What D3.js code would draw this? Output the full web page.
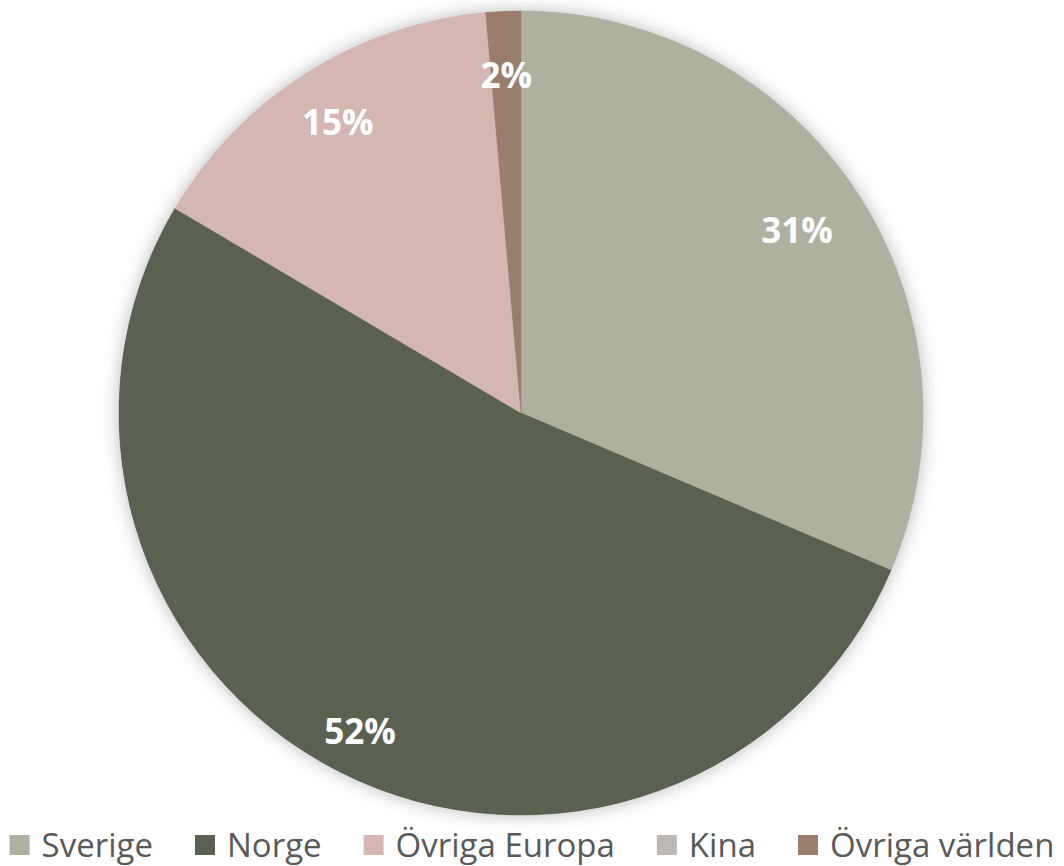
<!DOCTYPE html>
<html>
<head>
<meta charset="utf-8">
<script src="https://cdn.jsdelivr.net/npm/d3@7"></script>
<style>
  body { margin: 0; background: #fff; }
  svg { display: block; }
</style>
</head>
<body>
<div id="main"></div>
<script>
const ctx = { w: 1064, h: 866, cx: 521, cy: 413, r: 402 };

const categories = ['Sverige', 'Norge', 'Övriga Europa', 'Kina', 'Övriga världen'];
const shares = [31.4, 52.1, 15.1, 0, 1.4];
const labels = ['31%', '52%', '15%', '', '2%'];
const colors = ['#aeb1a0', '#5b6151', '#d4b6b2', '#bdb8b4', '#9a7e6d'];

const svg = d3.select('#main').append('svg')
    .attr('width', ctx.w)
    .attr('height', ctx.h);

// soft shadow around the pie
const defs = svg.append('defs');
const f = defs.append('filter').attr('id', 'shadow')
    .attr('x', '-20%').attr('y', '-20%').attr('width', '140%').attr('height', '140%');
f.append('feDropShadow')
    .attr('dx', 0).attr('dy', 0)
    .attr('stdDeviation', 9)
    .attr('flood-color', '#000')
    .attr('flood-opacity', 0.28);

const data = categories.map((c, i) => ({ name: c, value: shares[i], label: labels[i], color: colors[i] }));

const pie = d3.pie().sort(null).value(d => d.value);
const arcs = pie(data);
const arc = d3.arc().innerRadius(0).outerRadius(ctx.r);

const g = svg.append('g').attr('transform', `translate(${ctx.cx},${ctx.cy})`);

g.append('g').attr('filter', 'url(#shadow)')
    .selectAll('path')
    .data(arcs)
    .enter().append('path')
    .attr('d', arc)
    .attr('fill', d => d.data.color);

g.append('g')
    .selectAll('path')
    .data(arcs.filter(d => d.data.value > 0))
    .enter().append('path')
    .attr('d', arc)
    .attr('fill', d => d.data.color)
    .attr('stroke', d => d.data.color)
    .attr('stroke-width', 0.5);

// value labels (distance from centre, as fraction of radius)
const labelPos = {
    'Sverige': 0.823, 'Norge': 0.887, 'Övriga Europa': 0.855, 'Övriga världen': 0.84
};
g.append('g')
    .selectAll('text')
    .data(arcs.filter(d => d.data.label))
    .enter().append('text')
    .attr('transform', d => {
        const a = (d.startAngle + d.endAngle) / 2;
        const rr = ctx.r * labelPos[d.data.name];
        return `translate(${Math.sin(a) * rr},${-Math.cos(a) * rr})`;
    })
    .attr('text-anchor', 'middle')
    .attr('dy', '0.36em')
    .style('font-family', '"Open Sans", sans-serif')
    .style('font-weight', 'bold')
    .style('font-size', '35px')
    .attr('fill', '#fff')
    .text(d => d.data.label);

// legend
const legend = svg.append('g').attr('class', 'legend');
const items = legend.selectAll('g')
    .data(data)
    .enter().append('g');
items.append('rect')
    .attr('width', 20).attr('height', 20)
    .attr('y', -22)
    .attr('fill', d => d.color);
items.append('text')
    .attr('x', 32)
    .style('font-family', '"Open Sans", sans-serif')
    .style('font-size', '33px')
    .attr('fill', '#595959')
    .text(d => d.name);

let xs = [];
let cur = 0;
const gap = 42;
items.each(function(d, i) {
    const tw = d3.select(this).select('text').node().getComputedTextLength();
    xs.push(cur);
    cur += 32 + tw + gap;
});
const total = cur - gap;
const startX = (ctx.w - total) / 2;
items.attr('transform', (d, i) => `translate(${startX + xs[i]},857)`);
</script>
</body>
</html>
